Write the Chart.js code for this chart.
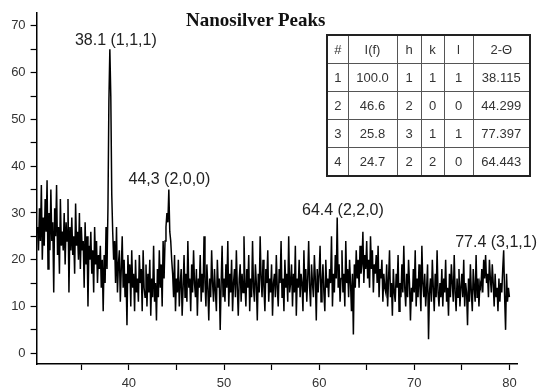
<!DOCTYPE html>
<html>
<head>
<meta charset="utf-8">
<script src="https://cdn.jsdelivr.net/npm/chart.js@4.4.1/dist/chart.umd.min.js"></script>
<style>
    html, body { margin: 0; padding: 0; background: #fff; }
    #wrap { position: relative; width: 545px; height: 389px; }
    #title {
        position: absolute; left: 186px; top: 9px;
        font: bold 19px "Liberation Serif", "Times New Roman", serif;
        color: #111; white-space: nowrap;
    }
    #peaks {
        position: absolute; left: 326px; top: 34px;
        border-collapse: collapse; table-layout: fixed;
        border: 2px solid #222;
        font: 13px "Liberation Sans", Arial, sans-serif; color: #333;
    }
    #peaks td { border: 1px solid #555; height: 27px; padding: 0; text-align: center; }
</style>
</head>
<body>
<div id="wrap">
    <canvas id="chart" width="545" height="389"></canvas>
    <div id="title">Nanosilver Peaks</div>
    <table id="peaks">
        <colgroup>
            <col style="width:21px"><col style="width:49px"><col style="width:24px">
            <col style="width:23px"><col style="width:29px"><col style="width:57px">
        </colgroup>
        <tbody id="peakRows"></tbody>
    </table>
</div>
<script>
// 2-theta grid of the scan (degrees)
const thetaStart = 30.4;
const thetaStep = 0.1;

// intensity, one row per degree
const intensity = [
    27, 22, 31, 24, 36, 20,                      // 30.4 - 30.9
    29, 23, 33, 26, 37, 18, 30, 22, 35, 24,      // 31
    28, 13, 31, 25, 36, 21, 27, 17, 33, 23,      // 32
    26, 22, 30, 19, 28, 24, 33, 13, 27, 22,      // 33
    29, 21, 25, 17, 32, 23, 26, 20, 30, 18,      // 34
    27, 22, 24, 14, 28, 19, 25, 10, 23, 20,      // 35
    26, 17, 22, 13, 27, 19, 24, 15, 21, 18,      // 36
    23, 14, 20, 9, 21, 15, 27, 18, 31, 54,       // 37
    65, 55, 34, 26, 20, 24, 15, 27, 13, 19,      // 38
    22, 11, 18, 25, 14, 20, 12, 17, 6, 21,       // 39
    15, 19, 10, 22, 14, 17, 9, 20, 13, 16,       // 40
    11, 21, 15, 18, 9, 22, 14, 12, 19, 10,       // 41
    17, 13, 20, 8, 16, 12, 23, 11, 15, 7,        // 42
    18, 12, 22, 14, 19, 10, 24, 16, 24, 27,      // 43
    30, 28, 35, 26, 24, 20, 17, 12, 21, 9,       // 44
    16, 13, 20, 10, 15, 18, 8, 14, 21, 12,       // 45
    17, 11, 24, 14, 16, 9, 19, 13, 22, 15,       // 46
    12, 18, 8, 16, 14, 21, 11, 17, 13, 25,       // 47
    15, 10, 19, 14, 7, 16, 12, 22, 15, 11,       // 48
    18, 13, 9, 20, 14, 16, 5, 15, 23, 12,        // 49
    16, 11, 19, 14, 24, 10, 17, 13, 20, 9,       // 50
    15, 18, 12, 22, 14, 8, 16, 19, 11, 17,       // 51
    13, 25, 15, 10, 18, 14, 21, 9, 16, 12,       // 52
    24, 14, 11, 19, 15, 7, 17, 13, 25, 16,       // 53
    12, 20, 14, 9, 18, 15, 22, 11, 16, 13,       // 54
    19, 8, 15, 17, 12, 21, 14, 10, 18, 15,       // 55
    24, 12, 16, 9, 20, 14, 17, 11, 25, 13,       // 56
    15, 19, 10, 17, 13, 23, 8, 16, 14, 20,       // 57
    12, 17, 15, 9, 22, 13, 18, 11, 16, 24,       // 58
    14, 10, 19, 15, 12, 21, 16, 7, 18, 13,       // 59
    17, 23, 11, 15, 19, 13, 9, 20, 14, 16,       // 60
    12, 18, 15, 25, 10, 17, 13, 21, 16, 29,      // 61
    14, 19, 11, 16, 22, 13, 17, 10, 24, 15,      // 62
    18, 12, 20, 15, 9, 17, 4, 19, 14, 22,        // 63
    16, 20, 14, 23, 17, 19, 26, 15, 21, 18,      // 64
    24, 16, 20, 14, 25, 18, 22, 13, 19, 17,      // 65
    21, 15, 23, 12, 18, 16, 20, 11, 17, 14,      // 66
    13, 19, 10, 16, 22, 12, 15, 8, 18, 13,       // 67
    11, 17, 14, 21, 9, 15, 12, 19, 13, 23,       // 68
    14, 10, 17, 12, 20, 15, 7, 14, 11, 18,       // 69
    13, 22, 10, 16, 12, 19, 14, 9, 23, 15,       // 70
    12, 17, 10, 14, 19, 3, 13, 16, 11, 20,       // 71
    14, 9, 17, 12, 22, 13, 10, 15, 12, 18,       // 72
    10, 16, 13, 20, 11, 14, 8, 17, 12, 19,       // 73
    15, 11, 21, 13, 9, 16, 12, 18, 10, 14,       // 74
    17, 12, 20, 10, 15, 13, 6, 16, 11, 19,       // 75
    13, 9, 18, 14, 11, 21, 12, 16, 10, 15,       // 76
    14, 18, 13, 20, 16, 21, 15, 17, 12, 20,      // 77
    16, 13, 19, 15, 10, 17, 12, 14, 9, 16,       // 78
    11, 15, 13, 18, 22, 12, 5, 17, 11, 14,       // 79
    12                                           // 80
];

const xTicks = [35, 40, 45, 50, 55, 60, 65, 70, 75, 80];
const yTicks = [0, 5, 10, 15, 20, 25, 30, 35, 40, 45, 50, 55, 60, 65, 70];

// peak annotations (text placed at 2-theta / intensity)
const labelText = ["38.1 (1,1,1)", "44,3 (2,0,0)", "64.4 (2,2,0)", "77.4 (3,1,1)"];
const labelX = [38.63, 44.26, 62.5, 78.6];
const labelY = [66.8, 37.2, 30.6, 23.6];

// peak table
const peakNo = ["1", "2", "3", "4"];
const peakI = ["100.0", "46.6", "25.8", "24.7"];
const peakH = ["1", "2", "3", "2"];
const peakK = ["1", "0", "1", "2"];
const peakL = ["1", "0", "1", "0"];
const peak2T = ["38.115", "44.299", "77.397", "64.443"];

const rows = document.getElementById("peakRows");
const header = ["#", "I(f)", "h", "k", "l", "2-\u0398"];
rows.innerHTML = "<tr>" + header.map(h => `<td>${h}</td>`).join("") + "</tr>" +
    peakNo.map((n, i) => `<tr><td>${n}</td><td>${peakI[i]}</td><td>${peakH[i]}</td>` +
        `<td>${peakK[i]}</td><td>${peakL[i]}</td><td>${peak2T[i]}</td></tr>`).join("");

const points = intensity.map((v, i) => ({ x: +(thetaStart + i * thetaStep).toFixed(1), y: v }));

const peakLabels = {
    id: "peakLabels",
    afterDatasetsDraw(chart) {
        const { ctx, scales: { x, y } } = chart;
        ctx.save();
        ctx.font = '16px "Liberation Sans", Arial, sans-serif';
        ctx.fillStyle = "#222";
        ctx.textAlign = "center";
        ctx.textBaseline = "middle";
        labelText.forEach((t, i) => {
            ctx.fillText(t, x.getPixelForValue(labelX[i]), y.getPixelForValue(labelY[i]));
        });
        ctx.restore();
    }
};

const tickFont = { family: '"Liberation Sans", Arial, sans-serif', size: 13 };

new Chart(document.getElementById("chart"), {
    type: "line",
    data: {
        datasets: [{
            data: points,
            borderColor: "#000",
            borderWidth: 1.5,
            pointRadius: 0,
            tension: 0,
        }],
    },
    options: {
        responsive: false,
        animation: false,
        devicePixelRatio: 1,
        layout: { padding: { left: 0, right: 28, top: 11, bottom: 0 } },
        plugins: {
            legend: { display: false },
            tooltip: { enabled: false },
        },
        scales: {
            x: {
                type: "linear",
                min: 30.3,
                max: 80.8,
                afterBuildTicks: s => { s.ticks = xTicks.map(v => ({ value: v })); },
                afterFit: s => { s.height = 25; },
                grid: { drawOnChartArea: false, tickLength: 6, tickColor: "#000", tickWidth: 1.2 },
                border: { color: "#000", width: 1.5 },
                ticks: {
                    autoSkip: false, maxRotation: 0, padding: 6,
                    color: "#333", font: tickFont,
                    callback: v => (v % 10 === 0 ? v : ""),
                },
            },
            y: {
                min: -2.3,
                max: 72.8,
                afterBuildTicks: s => { s.ticks = yTicks.map(v => ({ value: v })); },
                afterFit: s => { s.width = 36.6; },
                grid: { drawOnChartArea: false, tickLength: 6, tickColor: "#000", tickWidth: 1.2 },
                border: { color: "#000", width: 1.5 },
                ticks: {
                    autoSkip: false, padding: 5,
                    color: "#333", font: tickFont,
                    callback: v => (v % 10 === 0 ? v : ""),
                },
            },
        },
    },
    plugins: [peakLabels],
});
</script>
</body>
</html>
